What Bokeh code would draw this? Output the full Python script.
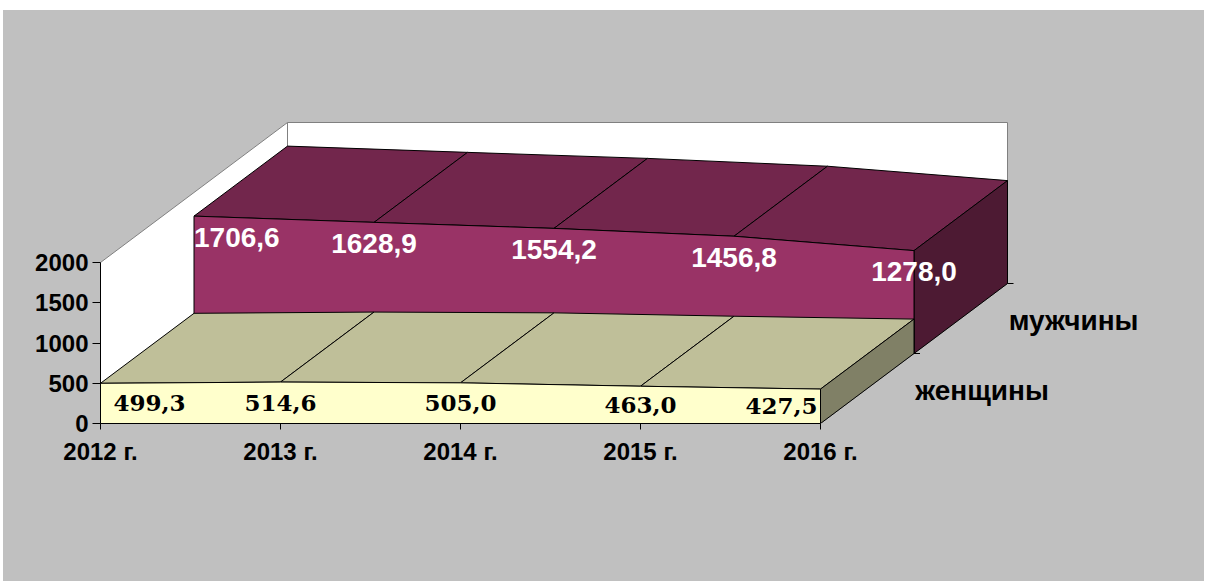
from bokeh.plotting import figure
from bokeh.models import Range1d, FixedTicker, ColumnDataSource, Spacer
from bokeh.layouts import column, row
from bokeh.core.properties import value
from bokeh.embed import file_html
from bokeh.resources import INLINE

# ---------------- data ----------------
years = ["2012 г.", "2013 г.", "2014 г.", "2015 г.", "2016 г."]
men = [1706.6, 1628.9, 1554.2, 1456.8, 1278.0]
women = [499.3, 514.6, 505.0, 463.0, 427.5]
series_names = ["женщины", "мужчины"]
y_ticks = [0, 500, 1000, 1500, 2000]
Y_MAX = 2000

# ---------------- geometry ----------------
PAD_L, PAD_T = 3, 10
W, H = 1201, 571
LEFT = 100 - PAD_L
BOTTOM = H - (423 - PAD_T)
PX_CAT = 180.0            # px per category step
PX_UNIT = 161.0 / 2000    # px per value unit
DDX = 93.5 / PX_CAT       # depth offset (x) per series, in category units
DDY = 70.0 / PX_UNIT      # depth offset (y) per series, in value units

def P(i, v, d):
    return (i + d * DDX, v + d * DDY)

def poly(pts):
    return [p[0] for p in pts], [p[1] for p in pts]

def fmt(v):
    return f"{v:.1f}".replace(".", ",")

BG = "#c0c0c0"
p = figure(width=W, height=H, output_backend="svg", toolbar_location=None,
           x_range=Range1d(0, (W - LEFT) / PX_CAT),
           y_range=Range1d(0, (H - BOTTOM) / PX_UNIT),
           min_border_left=LEFT, min_border_right=0, min_border_top=0,
           min_border_bottom=BOTTOM)
p.background_fill_color = BG
p.border_fill_color = BG
p.outline_line_color = None
p.grid.visible = False
p.styles = {"background-color": BG}

n = len(years)
last = n - 1

# ---------------- walls ----------------
wx, wy = [], []
for pts in (
    [P(0, 0, 0), P(0, Y_MAX, 0), P(0, Y_MAX, 2), P(0, 0, 2)],          # left wall
    [P(0, 0, 2), P(last, 0, 2), P(last, Y_MAX, 2), P(0, Y_MAX, 2)],    # back wall
    [P(0, 0, 0), P(last, 0, 0), P(last, 0, 2), P(0, 0, 2)],            # floor
):
    x, y = poly(pts)
    wx.append(x); wy.append(y)
p.patches(wx, wy, fill_color="white", line_color="#808080", line_width=1)

# ---------------- series ----------------
def draw_series(vals, d0, front, top, side):
    xs, ys, cs = [], [], []
    for i in range(len(vals) - 1):
        x, y = poly([P(i, vals[i], d0), P(i + 1, vals[i + 1], d0),
                     P(i + 1, vals[i + 1], d0 + 1), P(i, vals[i], d0 + 1)])
        xs.append(x); ys.append(y); cs.append(top)
    k = len(vals) - 1
    x, y = poly([P(k, 0, d0), P(k, vals[k], d0), P(k, vals[k], d0 + 1), P(k, 0, d0 + 1)])
    xs.append(x); ys.append(y); cs.append(side)
    pts = [P(i, v, d0) for i, v in enumerate(vals)] + [P(i, 0, d0) for i in reversed(range(len(vals)))]
    x, y = poly(pts)
    xs.append(x); ys.append(y); cs.append(front)
    p.patches(xs, ys, fill_color=cs, line_color="black", line_width=1)

draw_series(men, 1, "#993366", "#72264c", "#4d1a33")
draw_series(women, 0, "#ffffcc", "#bfbf99", "#808066")

# depth-axis ticks
tx = [P(last, 0, d)[0] for d in (1, 2)]
ty = [P(last, 0, d)[1] for d in (1, 2)]
p.segment(x0=tx, y0=ty, x1=[x + 6 / PX_CAT for x in tx], y1=ty, line_color="black", line_width=1)

# ---------------- data labels ----------------
men_src = ColumnDataSource(dict(
    x=[P(i, v, 1)[0] for i, v in enumerate(men)],
    y=[P(i, v, 1)[1] - 21 / PX_UNIT for i, v in enumerate(men)],
    t=[fmt(v) for v in men],
    a=["left" if i == 0 else "center" for i in range(n)],
))
p.text(x="x", y="y", text="t", source=men_src, text_align="a",
       text_baseline="middle", text_color="white",
       text_font=value("Liberation Sans"), text_font_style="bold", text_font_size="28px")

women_src = ColumnDataSource(dict(
    x=[P(i, v, 0)[0] for i, v in enumerate(women)],
    y=[v / 2 for v in women],
    t=[fmt(v) for v in women],
    a=["left" if i == 0 else ("right" if i == last else "center") for i in range(n)],
    xo=[13 if i == 0 else (-3 if i == last else 0) for i in range(n)],
))
p.text(x="x", y="y", text="t", source=women_src, text_align="a", x_offset="xo",
       text_baseline="middle", text_color="black",
       text_font=value("DejaVu Serif"), text_font_style="bold", text_font_size="23px")

# series (depth) labels
dep_src = ColumnDataSource(dict(
    x=[P(last, 0, d + 0.5)[0] for d in range(len(series_names))],
    y=[P(last, 0, d + 0.5)[1] - 2 / PX_UNIT for d in range(len(series_names))],
    t=series_names,
))
p.text(x="x", y="y", text="t", source=dep_src, x_offset=48, text_align="left",
       text_baseline="middle", text_color="black",
       text_font=value("Liberation Sans"), text_font_style="bold", text_font_size="28px")

# ---------------- axes ----------------
ya = p.yaxis[0]
ya.bounds = (0, Y_MAX)
ya.ticker = FixedTicker(ticks=y_ticks)
ya.minor_tick_line_color = None
ya.major_tick_in = 0
ya.major_tick_out = 8
ya.major_label_standoff = 4
ya.axis_line_color = "black"
ya.major_tick_line_color = "black"
ya.major_label_text_font = "Liberation Sans"
ya.major_label_text_font_style = "bold"
ya.major_label_text_font_size = "24px"
ya.major_label_text_color = "black"

xa = p.xaxis[0]
xa.bounds = (0, last)
xa.ticker = FixedTicker(ticks=list(range(n)))
xa.major_label_overrides = {i: years[i] for i in range(n)}
xa.minor_tick_line_color = None
xa.major_tick_in = 0
xa.major_tick_out = 6
xa.major_label_standoff = 8
xa.axis_line_color = "black"
xa.major_tick_line_color = "black"
xa.major_label_text_font = "Liberation Sans"
xa.major_label_text_font_style = "bold"
xa.major_label_text_font_size = "24px"
xa.major_label_text_color = "black"

layout = column(Spacer(height=PAD_T), row(Spacer(width=PAD_L), p))
open("out.html", "w").write(file_html(layout, INLINE))
